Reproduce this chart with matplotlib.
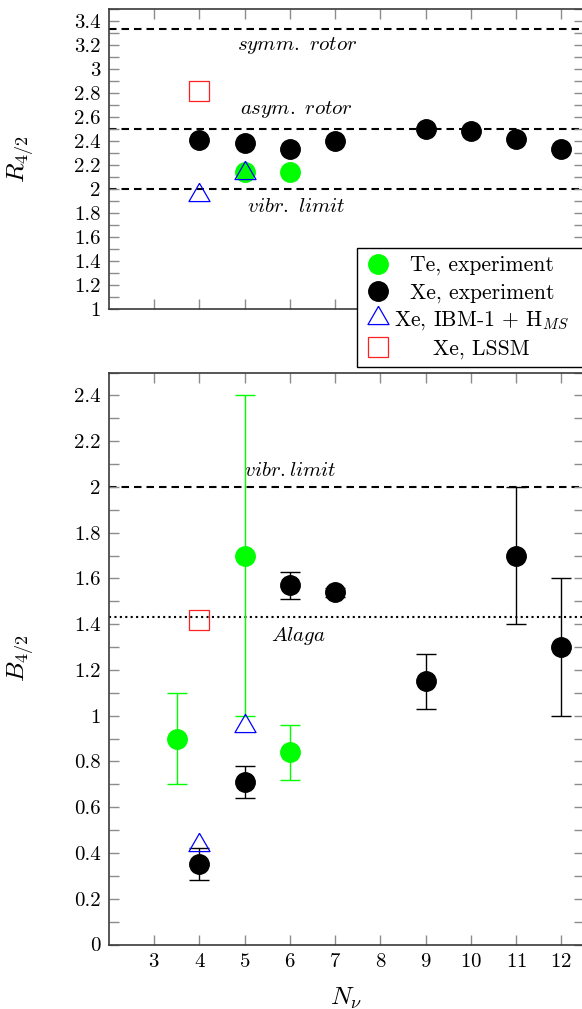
import matplotlib

matplotlib.use("Agg")
import matplotlib.pyplot as plt
import numpy as np
from matplotlib.axes import Axes
from matplotlib.ticker import FixedLocator, FuncFormatter

# -----------------------------------------------------------------------------
# R_4/2 (upper panel)
te_n_r = [5, 6]
te_r = [2.14, 2.14]
xe_n_r = [4, 5, 6, 7, 9, 10, 11, 12]
xe_r = [2.41, 2.38, 2.33, 2.40, 2.50, 2.48, 2.42, 2.33]
ibm_n_r = [4, 5]
ibm_r = [1.95, 2.13]
lssm_n_r = [4]
lssm_r = [2.82]

r_limits = [3.33, 2.5, 2.0]
r_limit_labels = [r"$symm.\ rotor$", r"$asym.\ rotor$", r"$vibr.\ limit$"]
r_label_y = [3.20, 2.66, 1.85]

# B_4/2 (lower panel)
te_n_b = [3.5, 5, 6]
te_b = [0.90, 1.70, 0.84]
te_b_err = [0.20, 0.70, 0.12]
xe_n_b = [4, 5, 6, 7, 9, 11, 12]
xe_b = [0.35, 0.71, 1.57, 1.54, 1.15, 1.70, 1.30]
xe_b_err = [0.07, 0.07, 0.06, 0.02, 0.12, 0.30, 0.30]
ibm_n_b = [4, 5]
ibm_b = [0.435, 0.953]
lssm_n_b = [4]
lssm_b = [1.42]

vibr_limit_b = 2.0
alaga_b = 1.43

legend_labels = [
    "Te, experiment",
    "Xe, experiment",
    r"Xe, IBM-1 + H$_{MS}$",
    "Xe, LSSM",
]

# -----------------------------------------------------------------------------
plt.rcParams["font.family"] = "serif"
plt.rcParams["font.serif"] = ["cmr10"]
plt.rcParams["mathtext.fontset"] = "cm"
plt.rcParams["axes.formatter.use_mathtext"] = True
plt.rcParams["font.size"] = 15

GREEN = "#00ff00"
TRI = [(0.0, 1.0), (-0.866, -0.5), (0.866, -0.5), (0.0, 1.0)]
FS = 15
LABEL_FS = 18.5


def style_axes(ax: Axes, y_major: np.ndarray, y_minor: np.ndarray, ylim: tuple) -> None:
    ax.set_xlim(2, 12.5)
    ax.set_ylim(*ylim)
    ax.xaxis.set_major_locator(FixedLocator(list(range(3, 13))))
    ax.yaxis.set_major_locator(FixedLocator(y_major))
    ax.yaxis.set_minor_locator(FixedLocator(y_minor))
    ax.yaxis.set_major_formatter(FuncFormatter(lambda v, p: f"{v:g}"))
    ax.tick_params(
        which="both", direction="in", top=True, right=True, color="#8c8c8c", width=1.0
    )
    ax.tick_params(which="major", length=7, pad=6, labelsize=FS)
    ax.tick_params(which="minor", length=7)
    for s in ax.spines.values():
        s.set_color("#3a3a3a")
        s.set_linewidth(1.2)


fig = plt.figure(figsize=(5.82, 10.09), dpi=100)
ax_r = fig.add_axes([109 / 582, 1 - 309 / 1009, 475 / 582, 300 / 1009])
ax_b = fig.add_axes([109 / 582, 1 - 944.5 / 1009, 475 / 582, 572 / 1009])

# upper panel
style_axes(
    ax_r,
    np.round(np.arange(1.0, 3.41, 0.2), 2),
    np.round(np.arange(1.1, 3.51, 0.2), 2),
    (1, 3.5),
)
ax_r.tick_params(labelbottom=False)
for yv in r_limits:
    ax_r.axhline(yv, color="black", lw=1.5, dashes=(3.6, 2.4), zorder=1)
for yv, txt in zip(r_label_y, r_limit_labels):
    ax_r.text(6.15, yv, txt, ha="center", va="center", fontsize=FS)

h_te = ax_r.plot(te_n_r, te_r, "o", color=GREEN, ms=14, ls="none", zorder=3)[0]
h_xe = ax_r.plot(xe_n_r, xe_r, "o", color="black", ms=14, ls="none", zorder=3)[0]
h_ibm = ax_r.plot(
    ibm_n_r, ibm_r, marker=TRI, ms=17.5, mfc="none", mec="blue", mew=0.9, ls="none", zorder=4
)[0]
h_lssm = ax_r.plot(
    lssm_n_r, lssm_r, "s", ms=14, mfc="none", mec="#ff2020", mew=0.9, ls="none", zorder=4
)[0]
ax_r.set_ylabel(r"$R_{4/2}$", fontsize=LABEL_FS)
ax_r.yaxis.set_label_coords(-0.152, 0.5)

# lower panel
style_axes(
    ax_b,
    np.round(np.arange(0.0, 2.41, 0.2), 2),
    np.round(np.arange(0.1, 2.51, 0.2), 2),
    (0, 2.5),
)
ax_b.axhline(vibr_limit_b, color="black", lw=1.5, dashes=(3.6, 2.4), zorder=1)
ax_b.axhline(alaga_b, color="black", lw=1.5, dashes=(1, 1.6), zorder=1)
ax_b.text(6.0, 2.07, r"$vibr.limit$", ha="center", va="center", fontsize=FS)
ax_b.text(6.2, 1.35, r"$Alaga$", ha="center", va="center", fontsize=FS)

ax_b.errorbar(
    te_n_b, te_b, yerr=te_b_err, fmt="o", color=GREEN, ecolor=GREEN,
    ms=14, elinewidth=1.0, capsize=7, capthick=1.0, zorder=3,
)
ax_b.errorbar(
    xe_n_b, xe_b, yerr=xe_b_err, fmt="o", color="black", ecolor="black",
    ms=14, elinewidth=1.0, capsize=7, capthick=1.0, zorder=3,
)
ax_b.plot(
    ibm_n_b, ibm_b, marker=TRI, ms=17.5, mfc="none", mec="blue", mew=0.9, ls="none", zorder=4
)
ax_b.plot(
    lssm_n_b, lssm_b, "s", ms=14, mfc="none", mec="#ff2020", mew=0.9, ls="none", zorder=4
)
ax_b.set_ylabel(r"$B_{4/2}$", fontsize=LABEL_FS)
ax_b.yaxis.set_label_coords(-0.152, 0.5)
ax_b.set_xlabel(r"$N_\nu$", fontsize=LABEL_FS)
ax_b.xaxis.set_label_coords(0.5, -0.0715)

# legend, shared for both panels (runs past the right edge like the axes)
leg = fig.legend(
    [h_te, h_xe, h_ibm, h_lssm],
    legend_labels,
    loc="upper left",
    bbox_to_anchor=(357 / 582, 1 - 400 / 1009, 240 / 582, 152 / 1009),
    bbox_transform=fig.transFigure,
    mode="expand",
    borderaxespad=0,
    fontsize=15.6,
    frameon=True,
    fancybox=False,
    framealpha=1,
    edgecolor="black",
    borderpad=0.35,
    handlelength=1.25,
    handletextpad=0.12,
    labelspacing=0.33,
)
leg.get_frame().set_linewidth(1.0)

# centre the legend texts in their column
fig.canvas.draw()
renderer = fig.canvas.get_renderer()
widths = [t.get_window_extent(renderer).width for t in leg.get_texts()]
for t, w in zip(leg.get_texts(), widths):
    t.set_x((max(widths) - w) / 2)

fig.savefig("out.png", dpi=100)
